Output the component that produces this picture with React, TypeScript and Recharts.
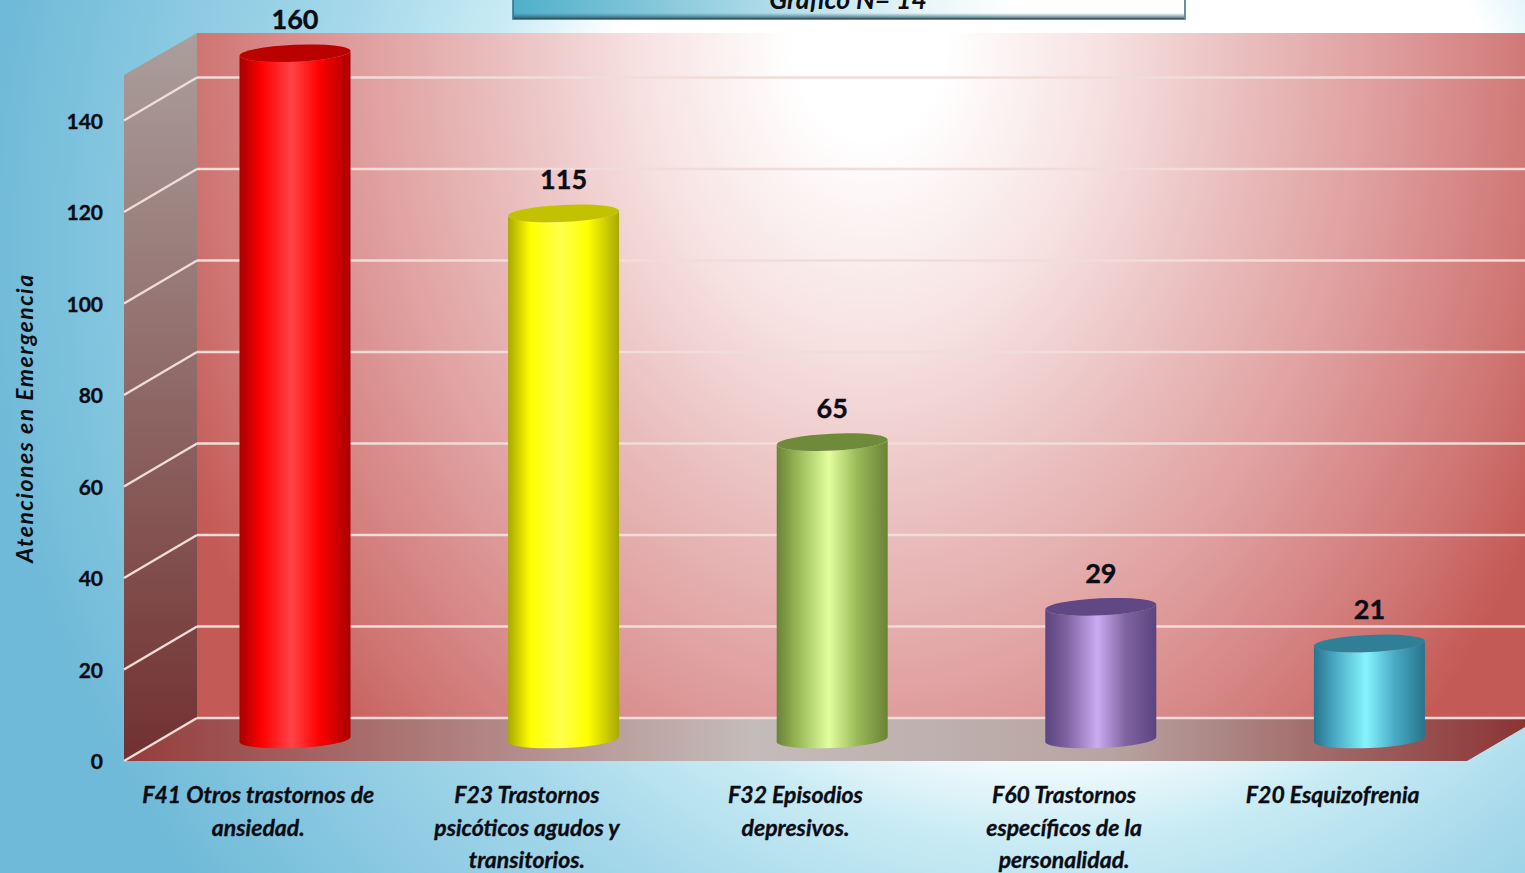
import { BarChart, Bar, XAxis, YAxis, CartesianGrid, LabelList } from "recharts";

const categoryLines = [
  ["F41 Otros trastornos de", "ansiedad."],
  ["F23 Trastornos", "psicóticos agudos y", "transitorios."],
  ["F32 Episodios", "depresivos."],
  ["F60 Trastornos", "específicos de la", "personalidad."],
  ["F20 Esquizofrenia"],
];
const categories = categoryLines.map((lines) => lines.join(" "));
const attentions = [160, 115, 65, 29, 21];
const yTicks = [0, 20, 40, 60, 80, 100, 120, 140];

// the printed axis stops at 150, the tallest cylinder is cut there
const AXIS_CAP = 150;
const FONT = "Lato, Carlito, sans-serif";
const INK = "#0c0c14";

// fake 3D depth of the walls
const DEPTH_X = 73;
const DEPTH_Y = 43;

const CYLINDERS = [
  { dark: "#a80000", mid: "#ff0000", light: "#ff4448", top: "#bb0000" },
  { dark: "#a8a800", mid: "#ffff00", light: "#ffff4c", top: "#c2c200" },
  { dark: "#6a8236", mid: "#9bbb59", light: "#e2ff9e", top: "#708a3c" },
  { dark: "#5a4480", mid: "#8064a2", light: "#cbabf2", top: "#5f4884" },
  { dark: "#27748c", mid: "#4bacc6", light: "#86f4ff", top: "#2f7f96" },
];

const chartData = categories.map((name, i) => ({ name, value: attentions[i], colorIndex: i }));

function Backdrop() {
  return (
    <svg width={1525} height={873} style={{ position: "absolute", left: 0, top: 0 }}>
      <defs>
        <radialGradient id="page" gradientUnits="userSpaceOnUse" cx={1050} cy={250} r={1100}>
          <stop offset="0.44" stopColor="#ffffff" />
          <stop offset="0.54" stopColor="#c8ebf4" />
          <stop offset="0.67" stopColor="#a5d8ea" />
          <stop offset="0.97" stopColor="#6fbad8" />
        </radialGradient>
        <radialGradient id="wall" gradientUnits="userSpaceOnUse" cx={0} cy={0} r={1} gradientTransform="translate(870 40) scale(760 1000)">
          <stop offset="0.1" stopColor="#ffffff" />
          <stop offset="0.3" stopColor="#f7e2e2" />
          <stop offset="0.5" stopColor="#e9bcbc" />
          <stop offset="0.66" stopColor="#e0a0a0" />
          <stop offset="0.88" stopColor="#cf7674" />
          <stop offset="1" stopColor="#c45a55" />
        </radialGradient>
        <linearGradient id="sideWall" x1="0" y1="0" x2="0" y2="1">
          <stop offset="0" stopColor="#ab9f9b" />
          <stop offset="1" stopColor="#713030" />
        </linearGradient>
        <linearGradient id="floor" x1="0" y1="0" x2="1" y2="0">
          <stop offset="0" stopColor="#963c3c" />
          <stop offset="0.45" stopColor="#c4bcba" />
          <stop offset="0.7" stopColor="#b8a5a3" />
          <stop offset="1" stopColor="#8c3434" />
        </linearGradient>
        <linearGradient id="titleBox" x1="0" y1="0" x2="1" y2="0">
          <stop offset="0" stopColor="#4fafca" />
          <stop offset="0.6" stopColor="#e6f5f9" />
          <stop offset="0.75" stopColor="#ffffff" />
        </linearGradient>
        <linearGradient id="titleBevel" x1="0" y1="0" x2="0" y2="1">
          <stop offset="0" stopColor="#2f6f82" stopOpacity={0} />
          <stop offset="1" stopColor="#2c4a55" stopOpacity={0.9} />
        </linearGradient>
        {CYLINDERS.map((c, i) => (
          <linearGradient key={i} id={`cyl${i}`} x1="0" y1="0" x2="1" y2="0">
            <stop offset="0" stopColor={c.dark} />
            <stop offset="0.2" stopColor={c.mid} />
            <stop offset="0.47" stopColor={c.light} />
            <stop offset="0.72" stopColor={c.mid} />
            <stop offset="1" stopColor={c.dark} />
          </linearGradient>
        ))}
      </defs>
      <rect width={1525} height={873} fill="url(#page)" />
      <rect x={197} y={33} width={1328} height={686} fill="url(#wall)" />
      <polygon points="124,75 197,33 197,718 124,761" fill="url(#sideWall)" />
      <polygon points="124,761 197,718 1525,718 1525,727 1467,761" fill="url(#floor)" />
      <rect x={513} y={-10} width={672} height={29} fill="url(#titleBox)" stroke="#2f6f82" strokeWidth={1.5} />
      <rect x={514} y={13} width={670} height={6} fill="url(#titleBevel)" />
      <text x={848} y={9} textAnchor="middle" fontFamily={FONT} fontStyle="italic" fontWeight={700} fontSize={26.5} fill={INK}>
        Gráfico N= 14
      </text>
      <text
        transform="translate(33 418) rotate(-90)"
        textAnchor="middle"
        fontFamily={FONT}
        fontStyle="italic"
        fontWeight={700}
        fontSize={23}
        letterSpacing={1.5}
        fill={INK}
      >
        Atenciones en Emergencia
      </text>
    </svg>
  );
}

function GridLine(props: any) {
  const { x1, y1 } = props;
  // plot top sits at the 160 of the hidden scale, no line printed there
  if (y1 < 40) return null;
  return (
    <g stroke="#f0dcd8" strokeWidth={2.4} fill="none">
      <line x1={x1} y1={y1} x2={x1 + DEPTH_X} y2={y1 - DEPTH_Y} />
      <line x1={x1 + DEPTH_X} y1={y1 - DEPTH_Y} x2={1525} y2={y1 - DEPTH_Y} />
    </g>
  );
}

function Cylinder(props: any) {
  const { x, y, width, height, payload } = props;
  const base = y + height;
  const unit = height / payload.value;
  const top = base - Math.min(payload.value, AXIS_CAP) * unit - DEPTH_Y / 2;
  const bottom = base - DEPTH_Y / 2;
  const left = x + DEPTH_X / 2;
  const rx = width / 2;
  const ry = 8.5;
  const tilt = 2.5;
  const palette = CYLINDERS[payload.colorIndex];
  const body = [
    `M${left} ${top + tilt}`,
    `L${left} ${bottom + tilt}`,
    `A${rx} ${ry} -2.6 0 0 ${left + width} ${bottom - tilt}`,
    `L${left + width} ${top - tilt}`,
    `A${rx} ${ry} -2.6 0 1 ${left} ${top + tilt}`,
    "Z",
  ].join(" ");
  return (
    <g>
      <path d={body} fill={`url(#cyl${payload.colorIndex})`} />
      <ellipse cx={left + rx} cy={top} rx={rx} ry={ry} fill={palette.top} transform={`rotate(-2.6 ${left + rx} ${top})`} />
    </g>
  );
}

function ValueLabel(props: any) {
  const { x, y, width, height, value } = props;
  const unit = height / value;
  const top = y + height - Math.min(value, AXIS_CAP) * unit - DEPTH_Y / 2;
  return (
    <text
      x={x + width / 2 + DEPTH_X / 2}
      y={top - 24}
      textAnchor="middle"
      fontFamily={FONT}
      fontWeight={700}
      fontSize={27}
      fill={INK}
      stroke={INK}
      strokeWidth={0.4}
    >
      {value}
    </text>
  );
}

function CategoryTick(props: any) {
  const { x, payload, index } = props;
  const lines = categoryLines[index] ?? [payload.value];
  return (
    <text textAnchor="middle" fontFamily={FONT} fontStyle="italic" fontWeight={700} fontSize={23} fill={INK} stroke={INK} strokeWidth={0.35}>
      {lines.map((line: string, i: number) => (
        <tspan key={line} x={x} y={803 + i * 32.5}>
          {line}
        </tspan>
      ))}
    </text>
  );
}

function ValueTick(props: any) {
  const { y, payload } = props;
  return (
    <text x={103} y={y + 8} textAnchor="end" fontFamily={FONT} fontWeight={700} fontSize={21} fill={INK} stroke={INK} strokeWidth={0.35}>
      {payload.value}
    </text>
  );
}

export default function App() {
  return (
    <div style={{ position: "absolute", left: 0, top: 0, width: 1525, height: 873, overflow: "hidden" }}>
      <Backdrop />
      <div style={{ position: "absolute", left: 0, top: 0 }}>
        <BarChart width={1525} height={873} data={chartData} margin={{ top: 29, right: 58, bottom: 0, left: 0 }} barSize={111}>
          <CartesianGrid vertical={false} horizontal={(p: any) => <GridLine key={p.key ?? p.y1} {...p} />} />
          <XAxis dataKey="name" height={112} interval={0} tickLine={false} axisLine={false} tick={<CategoryTick />} />
          <YAxis width={124} domain={[0, 160]} ticks={yTicks} tickLine={false} axisLine={false} tick={<ValueTick />} />
          <Bar dataKey="value" shape={<Cylinder />} isAnimationActive={false}>
            <LabelList dataKey="value" content={<ValueLabel />} />
          </Bar>
        </BarChart>
      </div>
    </div>
  );
}
